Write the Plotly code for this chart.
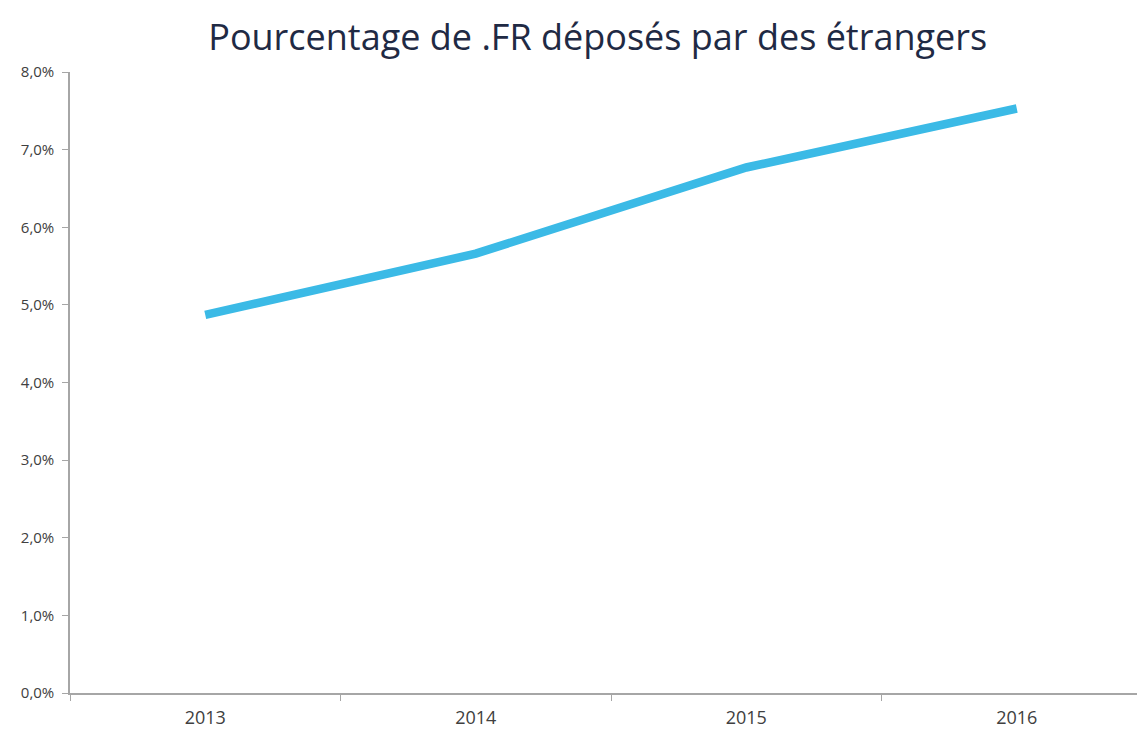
import plotly.graph_objects as go

# data
years = ["2013", "2014", "2015", "2016"]
share_foreign = [0.0487, 0.0566, 0.0677, 0.0753]
y_ticks = [0, 0.01, 0.02, 0.03, 0.04, 0.05, 0.06, 0.07, 0.08]

fig = go.Figure()
fig.add_trace(go.Scatter(
    x=years, y=share_foreign, mode="lines",
    line=dict(color="#3BBAE6", width=8.5, shape="linear"),
    hoverinfo="x+y", showlegend=False,
))

# page body has an 8px margin, so margins are shifted to compensate
fig.update_layout(
    width=1145, height=729,
    margin=dict(l=62, r=8, t=64, b=44),
    paper_bgcolor="white", plot_bgcolor="white",
    separators=", ",
    font=dict(family="Open Sans", color="#404040"),
    title=dict(
        text="Pourcentage de .FR déposés par des étrangers",
        x=0.515, xanchor="center", yref="container", y=0.96, yanchor="middle",
        font=dict(family="Open Sans", size=36, color="#1F2A44"),
    ),
)

fig.update_xaxes(
    type="category", range=[-0.5, 3.474],
    showline=True, linecolor="#A6A6A6", linewidth=1.5,
    ticks="outside", tickson="boundaries", ticklen=6, tickcolor="#A6A6A6",
    showgrid=False, zeroline=False, ticklabelstandoff=8,
    tickfont=dict(family="Open Sans", size=18, color="#404040"),
)
fig.update_yaxes(
    range=[0, 0.08], tickvals=y_ticks, tickformat=".1%",
    showline=True, linecolor="#A6A6A6", linewidth=1.5,
    ticks="outside", ticklen=6, tickcolor="#A6A6A6",
    showgrid=False, zeroline=False, ticklabelstandoff=5,
    tickfont=dict(family="Open Sans", size=15, color="#404040"),
)

fig.write_html("out.html")
